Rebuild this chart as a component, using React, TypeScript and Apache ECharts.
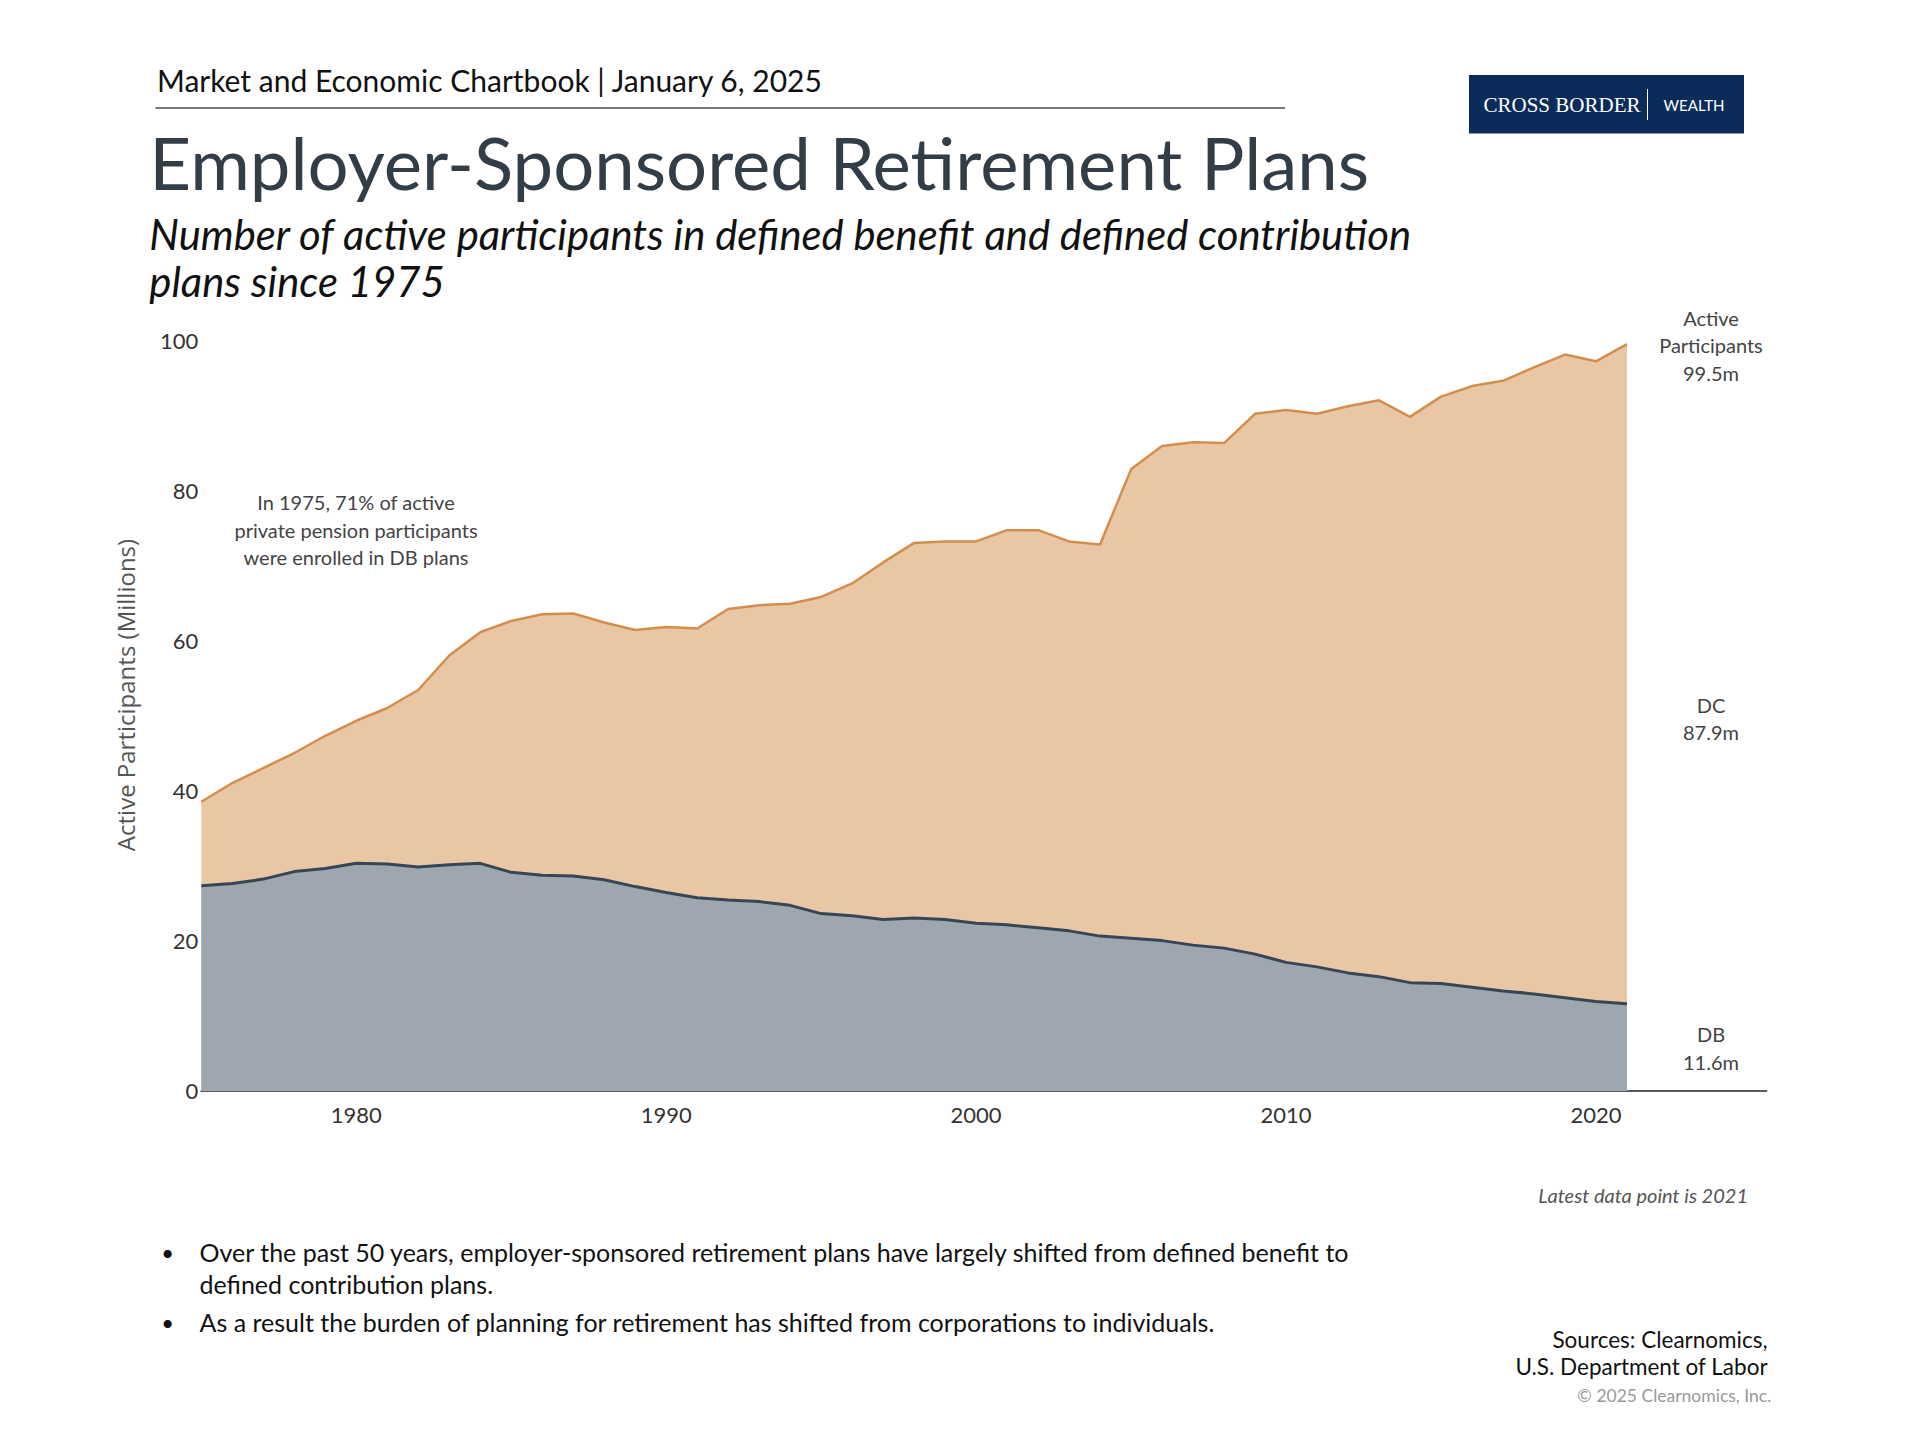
import React, { useEffect, useRef } from "react";
import * as echarts from "echarts";

const years = [
  1975, 1976, 1977, 1978, 1979, 1980, 1981, 1982, 1983, 1984, 1985, 1986, 1987, 1988, 1989,
  1990, 1991, 1992, 1993, 1994, 1995, 1996, 1997, 1998, 1999, 2000, 2001, 2002, 2003, 2004,
  2005, 2006, 2007, 2008, 2009, 2010, 2011, 2012, 2013, 2014, 2015, 2016, 2017, 2018, 2019,
  2020, 2021,
];

// Total active participants (DB + DC), millions
const totalParticipants = [
  38.5, 41.0, 43.0, 45.0, 47.3, 49.3, 51.0, 53.4, 58.0, 61.1, 62.6, 63.5, 63.6, 62.4, 61.4,
  61.8, 61.6, 64.2, 64.7, 64.9, 65.8, 67.6, 70.4, 73.0, 73.2, 73.2, 74.7, 74.7, 73.2, 72.8,
  82.8, 85.9, 86.4, 86.3, 90.2, 90.7, 90.2, 91.2, 92.0, 89.8, 92.5, 93.9, 94.6, 96.4, 98.1,
  97.2, 99.5,
];

// Defined benefit active participants, millions
const dbParticipants = [
  27.3, 27.6, 28.2, 29.2, 29.6, 30.3, 30.2, 29.8, 30.1, 30.3, 29.1, 28.7, 28.6, 28.1, 27.2,
  26.4, 25.7, 25.4, 25.2, 24.7, 23.6, 23.3, 22.8, 23.0, 22.8, 22.3, 22.1, 21.7, 21.3, 20.6,
  20.3, 20.0, 19.4, 19.0, 18.2, 17.1, 16.5, 15.7, 15.2, 14.4, 14.3, 13.8, 13.3, 12.9, 12.4,
  11.9, 11.6,
];

const yTicks = [0, 20, 40, 60, 80, 100];
const xLabelYears = [1980, 1990, 2000, 2010, 2020];

const headerText = "Market and Economic Chartbook | January 6, 2025";
const titleText = "Employer-Sponsored Retirement Plans";
const subtitleLines = [
  "Number of active participants in defined benefit and defined contribution",
  "plans since 1975",
];
const yAxisName = "Active Participants (Millions)";
const noteLeft = "In 1975, 71% of active\nprivate pension participants\nwere enrolled in DB plans";
const noteRight = "In 2021, less than 12%\nwere enrolled in DB plans";
const latestNote = "Latest data point is 2021";
const bullets = [
  ["Over the past 50 years, employer-sponsored retirement plans have largely shifted from defined benefit to", "defined contribution plans."],
  ["As a result the burden of planning for retirement has shifted from corporations to individuals."],
];
const sources = ["Sources: Clearnomics,", "U.S. Department of Labor"];
const copyright = "© 2025 Clearnomics, Inc.";

const FONT = "Lato";

export default function App() {
  const ref = useRef<HTMLDivElement>(null);

  useEffect(() => {
    document.body.style.margin = "0";
    if (!ref.current) return;
    const chart = echarts.init(ref.current, undefined, { renderer: "svg" });
    const last = years.length - 1;
    const totalLast = totalParticipants[last];
    const dbLast = dbParticipants[last];
    const dcLast = Math.round((totalLast - dbLast) * 10) / 10;

    const txt = (x: number, y: number, text: string, style: any, extra: any = {}) => ({
      type: "text",
      x,
      y,
      ...extra,
      style: { text, fontFamily: FONT, fill: "#222", ...style },
    });

    const small = { fontSize: 20, fill: "#444", align: "center", verticalAlign: "middle", lineHeight: 27.5 };

    const graphics: any[] = [
      txt(157, 80, headerText, { fontSize: 30, fill: "#111", verticalAlign: "middle" }),
      { type: "line", shape: { x1: 155.5, y1: 108, x2: 1285, y2: 108 }, style: { stroke: "#4a4f55", lineWidth: 1.5 } },
      { type: "rect", shape: { x: 1469, y: 75, width: 275, height: 58.5 }, style: { fill: "#0b2c5b" } },
      txt(1483.5, 105, "CROSS BORDER", { fontSize: 21, fill: "#ffffff", fontFamily: "Liberation Serif", verticalAlign: "middle" }),
      { type: "line", shape: { x1: 1647.5, y1: 89, x2: 1647.5, y2: 120 }, style: { stroke: "#ffffff", lineWidth: 1 } },
      txt(1694, 105, "WEALTH", { fontSize: 15, fill: "#ffffff", align: "center", verticalAlign: "middle" }),
      txt(149.3, 161.6, titleText, { fontSize: 72.5, fill: "#333d47", verticalAlign: "middle" }),
      txt(149.3, 234, subtitleLines[0], { fontSize: 41.8, fontStyle: "italic", fill: "#111", verticalAlign: "middle" }),
      txt(149.3, 280.5, subtitleLines[1], { fontSize: 41.8, fontStyle: "italic", fill: "#111", verticalAlign: "middle" }),
      txt(125, 695, yAxisName, { fontSize: 24, fontFamily: "Open Sans", fill: "#555", align: "center", verticalAlign: "middle" }, { rotation: Math.PI / 2 }),
      txt(356, 529.5, noteLeft, small),
      txt(1503, 792, noteRight, small),
      txt(1711, 345, `Active\nParticipants\n${totalLast.toFixed(1)}m`, small),
      txt(1711, 718.5, `DC\n${dcLast.toFixed(1)}m`, small),
      txt(1711, 1048, `DB\n${dbLast.toFixed(1)}m`, small),
      txt(1748, 1195, latestNote, { fontSize: 20, fontStyle: "italic", fill: "#555", align: "right", verticalAlign: "middle" }),
      txt(167.7, 1252.3, "•", { fontSize: 22, fill: "#111", align: "center", verticalAlign: "middle" }),
      txt(199.5, 1252.3, bullets[0][0], { fontSize: 25, fill: "#111", verticalAlign: "middle" }),
      txt(199.5, 1284, bullets[0][1], { fontSize: 25, fill: "#111", verticalAlign: "middle" }),
      txt(167.7, 1322, "•", { fontSize: 22, fill: "#111", align: "center", verticalAlign: "middle" }),
      txt(199.5, 1322, bullets[1][0], { fontSize: 25, fill: "#111", verticalAlign: "middle" }),
      txt(1767.6, 1339, sources[0], { fontSize: 22.5, fill: "#111", align: "right", verticalAlign: "middle" }),
      txt(1767.6, 1366, sources[1], { fontSize: 22.5, fill: "#111", align: "right", verticalAlign: "middle" }),
      txt(1771.3, 1395.5, copyright, { fontSize: 17.5, fill: "#999", align: "right", verticalAlign: "middle" }),
    ];

    chart.setOption({
      animation: false,
      backgroundColor: "#ffffff",
      grid: { left: 201.3, right: 153.6, top: 340.3, bottom: 349.3, containLabel: false },
      xAxis: {
        type: "value",
        min: 1975,
        max: 2025.5,
        interval: 5,
        axisLine: { show: true, lineStyle: { color: "#555b61", width: 2 } },
        axisTick: { show: false },
        splitLine: { show: false },
        axisLabel: {
          fontFamily: FONT,
          fontSize: 22,
          color: "#333",
          margin: 13,
          showMinLabel: false,
          showMaxLabel: false,
          formatter: (v: number) => (xLabelYears.includes(v) ? String(v) : ""),
        },
      },
      yAxis: {
        type: "value",
        min: yTicks[0],
        max: yTicks[yTicks.length - 1],
        interval: 20,
        axisLine: { show: false },
        axisTick: { show: false },
        splitLine: { show: false },
        axisLabel: { fontFamily: FONT, fontSize: 22, color: "#333", margin: 3 },
      },
      series: [
        {
          name: "Total",
          type: "line",
          data: years.map((y, i) => [y, totalParticipants[i]]),
          symbol: "none",
          lineStyle: { color: "#d38e4e", width: 2.5 },
          areaStyle: { color: "#eac7a4", opacity: 1 },
          z: 1,
        },
        {
          name: "DB",
          type: "line",
          data: years.map((y, i) => [y, dbParticipants[i]]),
          symbol: "none",
          lineStyle: { color: "#364656", width: 3 },
          areaStyle: { color: "#9ea7b0", opacity: 1 },
          z: 2,
        },
      ],
      graphic: graphics,
    });

    return () => chart.dispose();
  }, []);

  return <div ref={ref} style={{ width: 1920, height: 1440 }} />;
}
